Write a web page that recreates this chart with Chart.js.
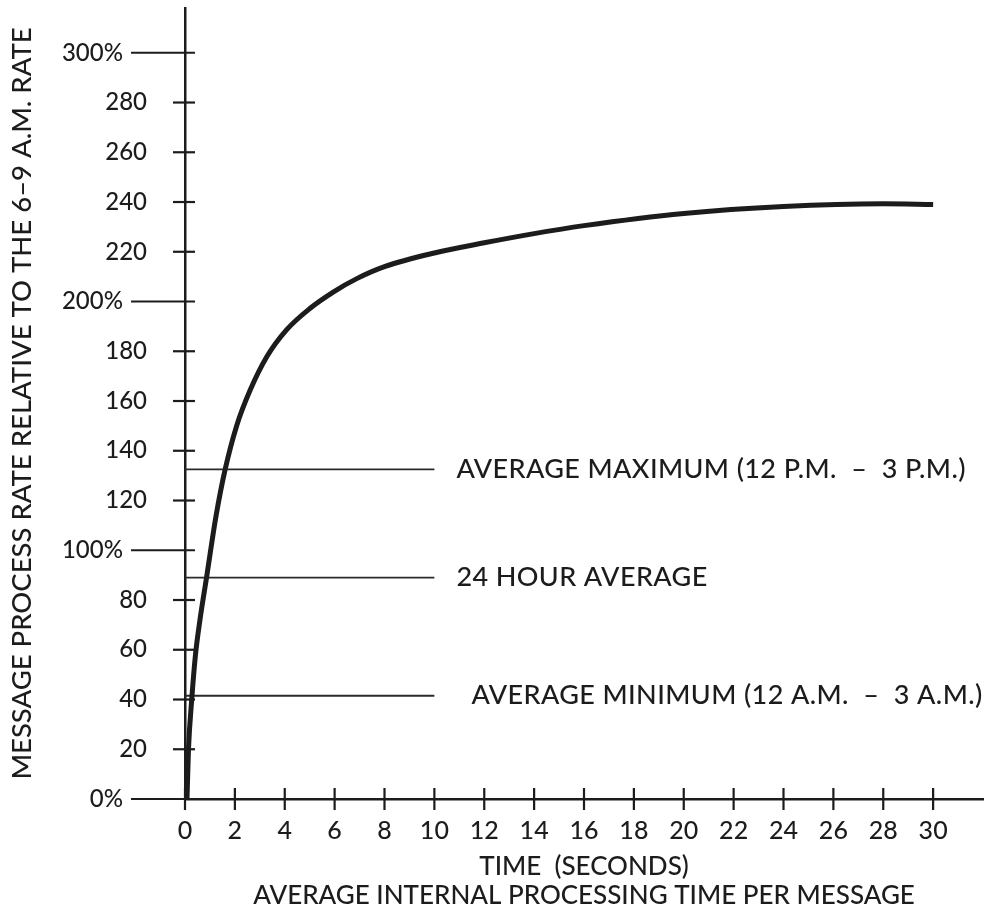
<!DOCTYPE html>
<html><head><meta charset="utf-8">
<script src="https://cdn.jsdelivr.net/npm/chart.js@4.4.1/dist/chart.umd.min.js"></script>
<style>html,body{margin:0;padding:0;background:#fff}#wrap{width:988px;height:913px}</style>
</head><body><div id="wrap"><canvas id="c" width="988" height="913"></canvas></div>
<script>
// ---- data ----
const timeSeconds = [0.08, 0.14, 0.27, 0.42, 0.6, 0.87, 1.24, 1.61, 2.07, 2.61, 3.28, 4.08, 5.02, 5.96, 6.89, 8, 10, 12, 14, 16, 20, 24, 28, 30];
const processRate = [0, 20, 40, 58, 72, 89.4, 113.5, 132.5, 150, 164.3, 177.8, 188.7, 197.3, 203.9, 209.2, 214, 219.5, 223.6, 227.3, 230.5, 235.4, 238.2, 239.3, 239];

const refLevels = [132.5, 89, 41.5];
const refLabels = ['AVERAGE MAXIMUM (12 P.M.  \u2013  3 P.M.)', '24 HOUR AVERAGE', 'AVERAGE MINIMUM (12 A.M.  \u2013  3 A.M.)'];
const refEndTime = 10;

const xTickValues = [0, 2, 4, 6, 8, 10, 12, 14, 16, 18, 20, 22, 24, 26, 28, 30];
const xTickLabels = ['0', '2', '4', '6', '8', '10', '12', '14', '16', '18', '20', '22', '24', '26', '28', '30'];
const yTickValues = [0, 20, 40, 60, 80, 100, 120, 140, 160, 180, 200, 220, 240, 260, 280, 300];
const yTickLabels = ['0%', '20', '40', '60', '80', '100%', '120', '140', '160', '180', '200%', '220', '240', '260', '280', '300%'];
const yMajorTicks = [0, 100, 200, 300];

const xTitle = ['TIME  (SECONDS)', 'AVERAGE INTERNAL PROCESSING TIME PER MESSAGE'];
const yTitle = 'MESSAGE PROCESS RATE RELATIVE TO THE 6\u20139 A.M. RATE';

// ---- styles ----
const INK = '#1c1c1c';
const FONT = 'Lato';
const WEIGHT = '500';
const refLabelOffsets = [22, 22, 37];

const crossTicks = {
  id: 'crossTicks',
  afterDraw(chart) {
    const ctx = chart.ctx, xs = chart.scales.x, ys = chart.scales.y;
    const ax = xs.getPixelForValue(0), ay = ys.getPixelForValue(0);
    ctx.save();
    ctx.strokeStyle = INK;
    ctx.lineWidth = 2.2;
    ys.ticks.forEach(t => {
      const py = ys.getPixelForValue(t.value);
      const major = yMajorTicks.includes(t.value);
      ctx.beginPath();
      ctx.moveTo(major ? ax - 54 : ax - 12, py);
      ctx.lineTo(ax + 10, py);
      ctx.stroke();
    });
    xs.ticks.forEach(t => {
      const px = xs.getPixelForValue(t.value);
      ctx.beginPath();
      ctx.moveTo(px, ay - 11);
      ctx.lineTo(px, ay + 11);
      ctx.stroke();
    });
    ctx.restore();
  },
  afterDatasetsDraw(chart) {
    const ctx = chart.ctx, xs = chart.scales.x, ys = chart.scales.y;
    ctx.save();
    ctx.fillStyle = INK;
    ctx.font = WEIGHT + ' 27px ' + FONT;
    if ('letterSpacing' in ctx) ctx.letterSpacing = '0.4px';
    ctx.textBaseline = 'middle';
    ctx.textAlign = 'left';
    refLevels.forEach((lvl, i) => {
      ctx.fillText(refLabels[i], xs.getPixelForValue(refEndTime) + refLabelOffsets[i], ys.getPixelForValue(lvl));
    });
    ctx.restore();
  }
};

const datasets = [{
  data: timeSeconds.map((t, i) => ({x: t, y: processRate[i]})),
  borderColor: INK,
  borderWidth: 5,
  pointRadius: 0,
  cubicInterpolationMode: 'monotone',
  fill: false
}].concat(refLevels.map(lvl => ({
  data: [{x: 0, y: lvl}, {x: refEndTime, y: lvl}],
  borderColor: '#2a2a2a',
  borderWidth: 1.8,
  pointRadius: 0,
  fill: false
})));

function build() {
  new Chart(document.getElementById('c'), {
    type: 'line',
    data: {datasets},
    plugins: [crossTicks],
    options: {
      responsive: false,
      animation: false,
      devicePixelRatio: 1,
      layout: {padding: {top: 8, right: 5, left: 0, bottom: 0}},
      plugins: {legend: {display: false}, tooltip: {enabled: false}},
      scales: {
        x: {
          type: 'linear',
          min: 0, max: 32,
          afterBuildTicks: s => { s.ticks = xTickValues.map(v => ({value: v})); },
          afterFit: s => { s.height = 114; s.paddingLeft = 0; s.paddingRight = 0; },
          grid: {display: false, drawTicks: false, tickLength: 0},
          border: {display: true, color: INK, width: 2.5},
          ticks: {
            autoSkip: false, maxRotation: 0, padding: 17,
            color: INK, font: {family: FONT, size: 25, weight: WEIGHT},
            callback: v => xTickLabels[xTickValues.indexOf(v)]
          },
          title: {display: true, text: xTitle, color: INK, font: {family: FONT, size: 26, weight: WEIGHT, lineHeight: 1.15}, padding: {top: 0, bottom: 2}}
        },
        y: {
          type: 'linear',
          min: 0, max: 318,
          afterBuildTicks: s => { s.ticks = yTickValues.map(v => ({value: v})); },
          afterFit: s => { s.width = 185; s.paddingTop = 0; s.paddingBottom = 0; },
          grid: {display: false, drawTicks: false, tickLength: 0},
          border: {display: true, color: INK, width: 2.5},
          ticks: {
            autoSkip: false, padding: 38,
            color: INK, font: {family: FONT, size: 24, weight: WEIGHT},
            callback: v => {
              const lbl = yTickLabels[yTickValues.indexOf(v)];
              return yMajorTicks.includes(v) ? lbl + '\u2002\u2002' : lbl;
            }
          },
          title: {display: true, text: yTitle, color: INK, font: {family: FONT, size: 27.5, weight: WEIGHT, lineHeight: 1.2}, padding: {top: 6, bottom: 0}}
        }
      }
    }
  });
}
if (document.fonts && document.fonts.load) {
  Promise.all([document.fonts.load(WEIGHT + ' 25px Lato')]).then(build, build);
} else { build(); }
</script></body></html>
